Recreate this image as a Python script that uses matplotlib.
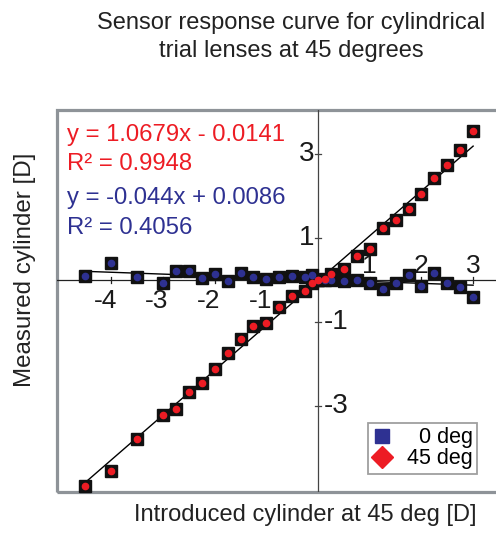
import matplotlib
matplotlib.use('Agg')
import matplotlib.pyplot as plt
from matplotlib.lines import Line2D
from matplotlib.patches import Rectangle

plt.rcParams['font.family'] = ['Liberation Sans', 'DejaVu Sans']

# ---- data -----------------------------------------------------------------
introduced = [-4.5, -4, -3.5, -3, -2.75, -2.5, -2.25, -2, -1.75, -1.5, -1.25, -1,
              -0.75, -0.5, -0.25, -0.125, 0, 0.125, 0.25, 0.5, 0.75, 1, 1.25,
              1.5, 1.75, 2, 2.25, 2.5, 2.75, 3]
measured_0deg = [0.10, 0.40, 0.06, -0.06, 0.21, 0.21, 0.04, 0.14, -0.02, 0.17, 0.06,
                 0.02, 0.06, 0.10, 0.06, 0.12, 0.0, 0.0, 0.0, -0.02, 0.0, -0.06,
                 -0.21, -0.06, 0.12, -0.14, 0.16, -0.06, -0.16, -0.40]
measured_45deg = [-4.90, -4.55, -3.79, -3.22, -3.08, -2.67, -2.46, -2.12, -1.75, -1.41,
                  -1.10, -1.02, -0.64, -0.37, -0.25, -0.08, 0.0, 0.02, 0.15, 0.26,
                  0.57, 0.73, 1.25, 1.43, 1.68, 2.06, 2.44, 2.74, 3.10, 3.55]

fit_45 = (1.0679, -0.0141)
fit_0 = (-0.044, 0.0086)
r2_45 = 0.9948
r2_0 = 0.4056

x_ticks = [-4, -3, -2, -1, 1, 2, 3]
y_ticks = [3, 1, -1, -3]

red = '#ED1C24'
blue = '#2E3192'

# ---- figure ---------------------------------------------------------------
W, H = 496, 536
fig = plt.figure(figsize=(W / 100, H / 100), dpi=100)
ax = fig.add_axes([57 / W, (H - 492) / H, (500 - 57) / W, (492 - 110) / H])
ax.set_xlim(-5.05, 3.52)
ax.set_ylim(-5.05, 4.05)

for s in ax.spines.values():
    s.set_visible(False)
ax.set_xticks([])
ax.set_yticks([])

# gray outer frame
ax.add_patch(Rectangle((0, 0), 1, 1, transform=ax.transAxes, fill=False,
                       edgecolor='#8E9398', linewidth=2.3, clip_on=False, zorder=1))

# axes through the origin
ax.axhline(0, color='#222222', linewidth=0.9, zorder=2)
ax.axvline(0, color='#444444', linewidth=0.9, zorder=2)

# tick marks + labels (negative x below the axis, positive above; y the other way)
for t in x_ticks:
    ax.plot([t, t], [-0.07, 0.07], color='#222222', linewidth=0.9, zorder=2)
    if t < 0:
        ax.text(t - 0.12, -0.22, str(t), ha='center', va='top', fontsize=19,
                color='#1a1a1a')
    else:
        ax.text(t, 0.04, str(t), ha='center', va='bottom', fontsize=19,
                color='#1a1a1a')
for t in y_ticks:
    ax.plot([-0.06, 0.06], [t, t], color='#444444', linewidth=0.9, zorder=2)
    if t > 0:
        ax.text(-0.08, t, str(t), ha='right', va='center', fontsize=20,
                color='#1a1a1a')
    else:
        ax.text(0.12, t, str(t), ha='left', va='center', fontsize=20,
                color='#1a1a1a')

# trend lines
x0, x1 = min(introduced), max(introduced)
for slope, icpt in (fit_45, fit_0):
    ax.plot([x0, x1], [slope * x0 + icpt, slope * x1 + icpt], color='black',
            linewidth=1.0, zorder=3)

# markers: black square with coloured dot
for ys, col in ((measured_0deg, blue), (measured_45deg, red)):
    ax.plot(introduced, ys, linestyle='none', marker='s', markersize=8.5,
            color='#111111', zorder=4, clip_on=False)
    ax.plot(introduced, ys, linestyle='none', marker='o', markersize=4.5,
            color=col, zorder=5, clip_on=False)

# equations
ax.text(-4.85, 3.45, f'y = {fit_45[0]:.4f}x - {abs(fit_45[1]):.4f}', color=red,
        fontsize=17.2, va='center')
ax.text(-4.85, 2.76, f'R\u00b2 = {r2_45:.4f}', color=red, fontsize=17.2, va='center')
ax.text(-4.85, 1.95, f'y = {fit_0[0]:.3f}x + {fit_0[1]:.4f}', color=blue,
        fontsize=17.2, va='center')
ax.text(-4.85, 1.24, f'R\u00b2 = {r2_0:.4f}', color=blue, fontsize=17.2, va='center')

# legend
handles = [Line2D([], [], linestyle='none', marker='s', markersize=10, color=blue),
           Line2D([], [], linestyle='none', marker='D', markersize=11, color=red)]
leg = ax.legend(handles, ['\u20070 deg', '45 deg'], loc='upper left',
                bbox_to_anchor=(368 / W, 1 - 423 / H), bbox_transform=fig.transFigure,
                borderaxespad=0, fontsize=15.5, frameon=True, fancybox=False,
                labelspacing=0.0, handletextpad=0.7, handlelength=0.9,
                borderpad=0.2)
leg.get_frame().set_edgecolor('#888888')
leg.get_frame().set_linewidth(1.3)
leg.set_zorder(6)

# titles
fig.text(291 / W, 1 - 37 / H, 'Sensor response curve for cylindrical\ntrial lenses at 45 degrees',
         ha='center', va='center', fontsize=17, color='#222222', linespacing=1.35)
fig.text(305 / W, 1 - 515 / H, 'Introduced cylinder at 45 deg [D]', ha='center',
         va='center', fontsize=17, color='#222222')
fig.text(25 / W, 1 - 270 / H, 'Measured cylinder [D]', ha='center', va='center',
         rotation=90, fontsize=17.4, color='#222222')

fig.savefig('out.png', dpi=100)
